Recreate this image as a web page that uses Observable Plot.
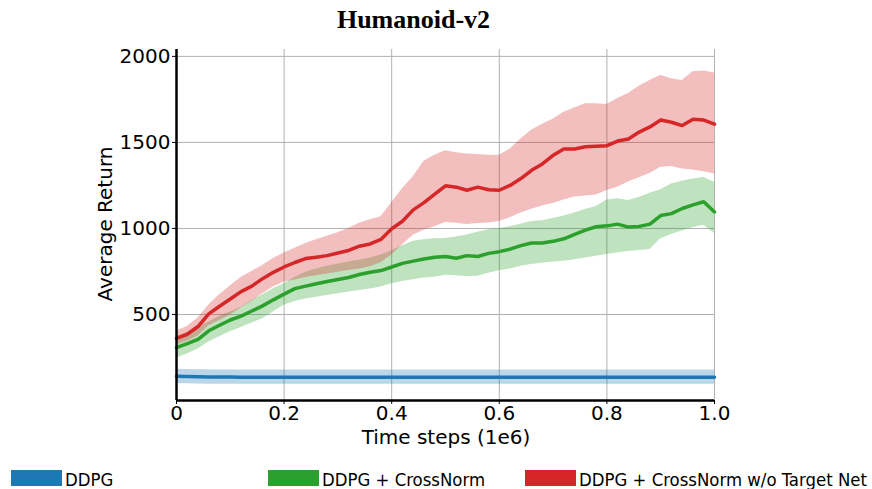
<!DOCTYPE html>
<html><head><meta charset="utf-8">
<script src="https://cdn.jsdelivr.net/npm/d3@7"></script>
<script src="https://cdn.jsdelivr.net/npm/@observablehq/plot@0.6"></script>
<style>
body{margin:0;background:#fff;}
#wrap{position:relative;width:872px;height:489px;overflow:hidden;background:#fff;}
</style></head><body><div id="wrap"></div>
<script>
const chartTitle = "Humanoid-v2";
const xLabel = "Time steps (1e6)";
const yLabel = "Average Return";
const seriesNames = ["DDPG", "DDPG + CrossNorm", "DDPG + CrossNorm w/o Target Net"];
const seriesColors = ["#1f77b4", "#2ca02c", "#d62728"];
const xTicks = [0, 0.2, 0.4, 0.6, 0.8, 1.0];
const xTickLabels = ["0", "0.2", "0.4", "0.6", "0.8", "1.0"];
const yTicks = [500, 1000, 1500, 2000];

const steps = [0,0.02,0.04,0.06,0.08,0.10,0.12,0.14,0.16,0.18,0.20,0.22,0.24,0.26,0.28,0.30,0.32,0.34,0.36,0.38,0.40,0.42,0.44,0.46,0.48,0.50,0.52,0.54,0.56,0.58,0.60,0.62,0.64,0.66,0.68,0.70,0.72,0.74,0.76,0.78,0.80,0.82,0.84,0.86,0.88,0.90,0.92,0.94,0.96,0.98,1.00];

const ddpgMean = [141,140,138,137,136,136,135,135,135,135,135,135,135,135,135,135,135,135,135,135,135,135,135,135,135,135,135,135,135,135,135,135,135,135,135,135,135,135,135,135,135,135,135,135,135,135,135,135,135,135,135];
const ddpgHigh = [181,180,179,178,177,177,177,177,177,177,177,177,177,177,177,177,177,177,177,177,177,177,177,177,177,177,177,177,177,177,177,177,177,177,177,177,177,177,177,177,177,177,177,177,177,177,177,177,177,177,177];
const ddpgLow  = [98,97,96,95,94,94,94,94,94,94,94,94,94,94,94,94,94,94,94,94,94,94,94,94,94,94,94,94,94,94,94,94,94,94,94,94,94,94,94,94,94,94,94,94,94,94,94,94,94,94,94];

const cnMean = [307,330,355,405,437,468,490,520,550,585,618,650,665,679,692,703,715,732,745,755,776,797,810,822,832,837,827,842,837,855,865,880,900,915,916,925,940,966,990,1010,1015,1025,1008,1012,1025,1075,1086,1116,1137,1155,1096];
const cnHigh = [370,395,425,455,490,515,540,580,615,650,679,715,745,765,780,792,805,815,828,845,870,900,925,935,940,942,950,962,978,992,1000,1010,1025,1040,1045,1058,1072,1090,1110,1127,1165,1172,1162,1180,1205,1225,1258,1275,1288,1296,1269];
const cnLow  = [245,270,300,340,370,400,425,450,475,515,554,575,590,600,610,620,630,640,648,660,679,692,702,712,716,728,725,720,722,740,754,765,780,790,798,805,810,818,828,838,848,858,866,872,878,940,965,985,1005,1018,971];

const cnntMean = [361,385,430,503,548,590,633,665,708,745,776,802,825,833,842,857,872,897,910,936,998,1042,1108,1150,1200,1248,1240,1222,1240,1225,1222,1250,1290,1338,1375,1425,1462,1462,1475,1478,1481,1508,1520,1560,1590,1630,1617,1598,1634,1630,1606];
const cnntHigh = [403,430,480,555,615,665,715,750,785,825,857,885,912,935,955,975,1000,1030,1050,1068,1150,1230,1300,1390,1425,1452,1440,1433,1430,1425,1425,1460,1520,1570,1605,1635,1675,1700,1725,1725,1721,1755,1785,1827,1860,1890,1870,1860,1910,1915,1904];
const cnntLow  = [322,345,375,435,465,497,538,575,620,660,689,700,715,725,735,745,755,765,778,800,845,905,960,990,1010,1035,1030,1023,1028,1032,1040,1062,1090,1112,1130,1145,1165,1183,1188,1195,1220,1240,1270,1295,1320,1355,1360,1346,1340,1330,1317];

const means = [ddpgMean, cnMean, cnntMean];
const highs = [ddpgHigh, cnHigh, cnntHigh];
const lows = [ddpgLow, cnLow, cnntLow];

const rows = [];
seriesNames.forEach((s, k) => {
  steps.forEach((x, i) => rows.push({series: s, x, mean: means[k][i], lo: lows[k][i], hi: highs[k][i]}));
});

const chart = Plot.plot({
  width: 872, height: 489,
  marginLeft: 176, marginRight: 158, marginTop: 49, marginBottom: 89,
  style: {fontFamily: "'DejaVu Sans', sans-serif", fontSize: "20px", color: "#000", background: "#fff", overflow: "visible"},
  x: {domain: [0, 1]},
  y: {domain: [0, 2040]},
  color: {domain: seriesNames, range: seriesColors},
  marks: [
    Plot.gridX(xTicks, {stroke: "#b0b0b0", strokeOpacity: 1, strokeWidth: 1}),
    Plot.gridY(yTicks, {stroke: "#b0b0b0", strokeOpacity: 1, strokeWidth: 1}),
    Plot.areaY(rows, {x: "x", y1: "lo", y2: "hi", z: "series", fill: "series", fillOpacity: 0.3}),
    Plot.lineY(rows, {x: "x", y: "mean", z: "series", stroke: "series", strokeWidth: 3.5, strokeLinejoin: "round"}),
    Plot.axisX(xTicks, {tickFormat: d => xTickLabels[xTicks.indexOf(d)], tickSize: 4, tickPadding: 1, fontSize: 20, label: null, stroke: "#000"}),
    Plot.axisY(yTicks, {tickFormat: d => String(d), tickSize: 4, tickPadding: 2, fontSize: 20, label: null, stroke: "#000"}),
    Plot.ruleX([0], {stroke: "#000", strokeWidth: 2.5}),
    Plot.ruleY([0], {stroke: "#000", strokeWidth: 2.5})
  ]
});

const svg = d3.select(chart);
svg.append("text").text(chartTitle)
  .attr("x", 413.5).attr("y", 28).attr("text-anchor", "middle")
  .style("font-family", "'Liberation Serif', 'Times New Roman', serif").style("font-weight", "bold").style("font-size", "26px").attr("fill", "#000");
svg.append("text").text(xLabel)
  .attr("x", 446).attr("y", 444).attr("text-anchor", "middle")
  .style("font-size", "20px").attr("fill", "#000");
svg.append("text").text(yLabel)
  .attr("transform", "translate(112,224) rotate(-90)").attr("text-anchor", "middle")
  .style("font-size", "20px").attr("fill", "#000");

const legendX = [11, 268, 525];
const lg = svg.append("g").attr("text-anchor", "start");
seriesNames.forEach((s, k) => {
  lg.append("rect").attr("x", legendX[k]).attr("y", 470).attr("width", 51).attr("height", 16).attr("fill", seriesColors[k]);
  lg.append("text").text(s).attr("x", legendX[k] + 54).attr("y", 485.5).attr("text-anchor", "start")
    .style("font-family", "'DejaVu Sans Condensed', 'DejaVu Sans', sans-serif").style("font-stretch", "condensed")
    .style("font-size", "18.4px").attr("fill", "#000");
});

document.getElementById("wrap").appendChild(chart);
</script>
</body></html>
